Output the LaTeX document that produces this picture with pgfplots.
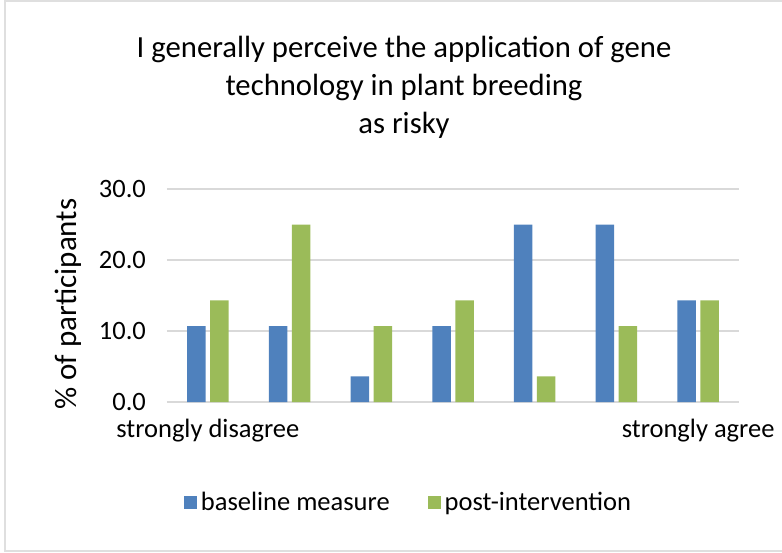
\documentclass[border=0pt]{standalone}
\usepackage{fontspec}
\setmainfont{Carlito}
\usepackage{pgfplots}
\pgfplotsset{compat=1.18}
\definecolor{barblue}{HTML}{4F81BD}
\definecolor{bargreen}{HTML}{9BBB59}
\definecolor{gridgray}{HTML}{D9D9D9}
\begin{document}
\begin{tikzpicture}
\useasboundingbox (0pt,0pt) rectangle (391pt,276pt);
\draw[gray!25, line width=0.8pt] (391pt,275.5pt) -- (2.5pt,275.5pt) -- (2.5pt,0.5pt) -- (391pt,0.5pt);
\node[align=center, font=\fontsize{15.35}{19}\selectfont] at (202pt,232.5pt)
  {I generally perceive the application of gene\\technology in plant breeding\\as risky};
\begin{axis}[
  at={(83.5pt,75pt)}, anchor=south west,
  scale only axis, width=286pt, height=106.5pt,
  xmin=-0.5, xmax=6.5, ymin=0, ymax=30,
  ybar=2.25pt, bar width=9.25pt,
  xtick={0,1,2,3,4,5,6},
  xticklabels={strongly disagree,,,,,,strongly agree},
  ytick={0,10,20,30},
  /pgf/number format/.cd, fixed, fixed zerofill, precision=1, assume math mode=true,
  /pgfplots/.cd,
  ticklabel style={font=\fontsize{13.25}{15}\selectfont},
  xticklabel style={yshift=-5pt},
  yticklabel style={xshift=-7pt},
  major tick length=0pt,
  axis line style={draw=none},
  ymajorgrids, grid style={gridgray, line width=0.8pt},
  ylabel={\% of participants},
  ylabel style={font=\fontsize{15.5}{18}\selectfont, at={(-0.173,0.46)}, anchor=center, rotate=0},
  legend columns=2,
  legend style={draw=none, at={(0.424,-0.474)}, anchor=center,
    font=\fontsize{13.25}{15}\selectfont,
    /tikz/every even column/.append style={column sep=17pt}},
  legend image code/.code={\fill[#1, draw=none] (0pt,-3.25pt) rectangle (6.5pt,3.25pt);},
]
\addplot[fill=barblue, draw=none] coordinates {(0,10.7) (1,10.7) (2,3.6) (3,10.7) (4,25.0) (5,25.0) (6,14.3)};
\addplot[fill=bargreen, draw=none] coordinates {(0,14.3) (1,25.0) (2,10.7) (3,14.3) (4,3.6) (5,10.7) (6,14.3)};
\legend{baseline measure, post-intervention}
\end{axis}
\end{tikzpicture}
\end{document}
